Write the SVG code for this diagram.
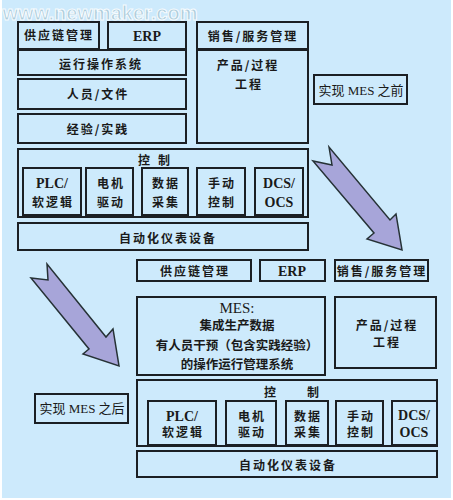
<svg xmlns="http://www.w3.org/2000/svg" width="453" height="500" viewBox="0 0 453 500">
<style>
.b{fill:none;stroke:#1b1f24;stroke-width:2}
.t{font-family:"Noto Sans CJK SC","Liberation Serif",serif;font-size:12px;font-weight:bold;fill:#1a1a1a;text-anchor:middle;letter-spacing:2px}
.s{font-family:"Liberation Serif","Noto Sans CJK SC",serif;font-size:14px;font-weight:bold;fill:#1a1a1a;text-anchor:middle}
.m{font-family:"Liberation Serif","Noto Sans CJK SC",serif;font-size:13px;fill:#1a1a1a;text-anchor:middle}
.h{font-family:"Noto Sans CJK SC",sans-serif;font-size:12.5px;font-weight:bold;fill:#1a1a1a;text-anchor:middle}
.a{fill:#a7a5d9;stroke:#263236;stroke-width:1.5;stroke-linejoin:miter}
</style>
<rect x="0" y="0" width="453" height="500" fill="#ffffff"/>
<rect x="2" y="0" width="449" height="498" fill="#cdeafc"/>
<text x="100" y="20" font-family="Liberation Sans,sans-serif" font-size="20" font-weight="bold" fill="#a9c8d6" stroke="#ffffff" stroke-width="1" text-anchor="middle" opacity="0.85">www.newmaker.com</text>

<g id="before">
<g id="n-supply1"><rect class="b" x="18" y="22" width="81" height="27"/><text class="t" x="59" y="40">供应链管理</text></g>
<g id="n-erp1"><rect class="b" x="108" y="22" width="78" height="27"/><text class="s" x="147" y="41">ERP</text></g>
<g id="n-sales1"><rect class="b" x="197" y="22" width="111" height="27"/><text class="t" x="253" y="41">销售/服务管理</text></g>
<g id="n-ops1"><rect class="b" x="18" y="50" width="168" height="25"/><text class="t" x="101" y="69">运行操作系统</text></g>
<g id="n-people1"><rect class="b" x="18" y="79" width="168" height="30"/><text class="t" x="98" y="99">人员/文件</text></g>
<g id="n-exp1"><rect class="b" x="18" y="114" width="168" height="29"/><text class="t" x="98" y="134">经验/实践</text></g>
<g id="n-prod1"><rect class="b" x="197" y="50" width="111" height="93"/><text class="t" x="248" y="70">产品/过程</text><text class="t" x="249" y="89">工程</text></g>
<g id="n-label-before"><rect class="b" x="314" y="75" width="93" height="29"/><text class="m" x="361" y="95">实现 MES 之前</text></g>
<g id="n-ctrl1"><rect class="b" x="18" y="149" width="290" height="68"/><text class="t" x="145" y="165">控</text><text class="t" x="165" y="165">制</text></g>
<g id="n-plc1"><rect class="b" x="23" y="168" width="58" height="47"/><text class="s" x="52" y="188">PLC/</text><text class="t" x="53" y="207">软逻辑</text></g>
<g id="n-motor1"><rect class="b" x="86" y="168" width="47" height="47"/><text class="t" x="111" y="188">电机</text><text class="t" x="111" y="207">驱动</text></g>
<g id="n-data1"><rect class="b" x="142" y="168" width="46" height="47"/><text class="t" x="166" y="188">数据</text><text class="t" x="166" y="207">采集</text></g>
<g id="n-manual1"><rect class="b" x="197" y="168" width="48" height="47"/><text class="t" x="222" y="188">手动</text><text class="t" x="222" y="207">控制</text></g>
<g id="n-dcs1"><rect class="b" x="255" y="168" width="48" height="47"/><text class="s" x="279" y="188">DCS/</text><text class="s" x="279" y="207">OCS</text></g>
<g id="n-auto1"><rect class="b" x="18" y="223" width="290" height="27"/><text class="t" x="168" y="243">自动化仪表设备</text></g>
</g>

<g id="after">
<g id="n-supply2"><rect class="b" x="137" y="260" width="114" height="21"/><text class="t" x="195" y="276">供应链管理</text></g>
<g id="n-erp2"><rect class="b" x="260" y="260" width="65" height="21"/><text class="s" x="292" y="276">ERP</text></g>
<g id="n-sales2"><rect class="b" x="335" y="260" width="93" height="21"/><text class="t" x="382" y="276" letter-spacing="0.5">销售/服务管理</text></g>
<g id="n-mes"><rect class="b" x="137" y="297" width="188" height="78"/>
<text x="237" y="313" font-family="Liberation Serif,serif" font-size="15" fill="#1a1a1a" text-anchor="middle">MES:</text>
<text class="h" x="237" y="330">集成生产数据</text>
<text class="h" x="237" y="350">有人员干预（包含实践经验）</text>
<text class="h" x="237" y="369">的操作运行管理系统</text></g>
<g id="n-prod2"><rect class="b" x="335" y="297" width="101" height="71"/><text class="t" x="387" y="330">产品/过程</text><text class="t" x="387" y="347">工程</text></g>
<g id="n-label-after"><rect class="b" x="35" y="394" width="93" height="29"/><text class="m" x="82" y="413">实现 MES 之后</text></g>
<g id="n-ctrl2"><rect class="b" x="137" y="380" width="300" height="66"/><text class="t" x="271" y="397">控</text><text class="t" x="314" y="397">制</text></g>
<g id="n-plc2"><rect class="b" x="148" y="401" width="68" height="44"/><text class="s" x="182" y="421">PLC/</text><text class="t" x="183" y="437">软逻辑</text></g>
<g id="n-motor2"><rect class="b" x="226" y="401" width="50" height="44"/><text class="t" x="252" y="421">电机</text><text class="t" x="252" y="437">驱动</text></g>
<g id="n-data2"><rect class="b" x="286" y="401" width="42" height="44"/><text class="t" x="308" y="421">数据</text><text class="t" x="308" y="437">采集</text></g>
<g id="n-manual2"><rect class="b" x="336" y="401" width="47" height="44"/><text class="t" x="361" y="421">手动</text><text class="t" x="361" y="437">控制</text></g>
<g id="n-dcs2"><rect class="b" x="392" y="401" width="45" height="44"/><text class="s" x="414" y="420">DCS/</text><text class="s" x="414" y="437">OCS</text></g>
<g id="n-auto2"><rect class="b" x="137" y="451" width="300" height="26"/><text class="t" x="288" y="470">自动化仪表设备</text></g>
</g>

<g id="connectors">
<polygon class="a" points="329,147 332,165 313,161 374,233 367,239 402,250 396,214 390,220"/>
<polygon class="a" points="47,264 48,280 31,278 89,349 83,354 119,366 113,329 106,337"/>
</g>
</svg>
